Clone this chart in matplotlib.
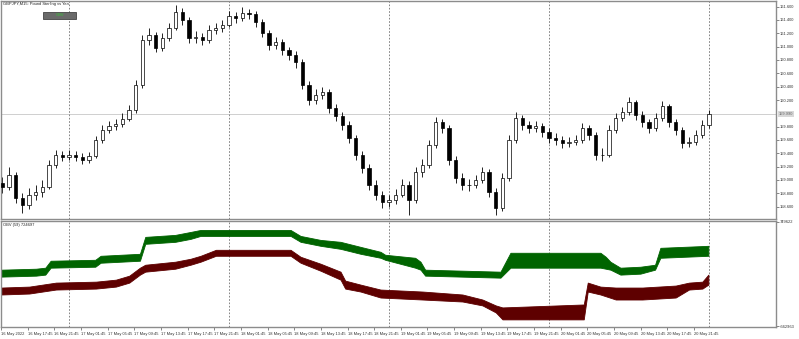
import numpy as np
import matplotlib
matplotlib.use("Agg")
import matplotlib.pyplot as plt
from matplotlib.patches import Rectangle
import matplotlib.transforms as mtransforms

plt.rcParams['font.family'] = ['Liberation Sans', 'DejaVu Sans']

# GBPJPY hourly candles, hours counted from 16 May 2022 00:00
hours = np.arange(14, 121)
first_open = 158.95
closes = [158.90, 159.08, 158.73, 158.63, 158.78, 158.82, 158.90, 159.23, 159.38, 159.35,
          159.38, 159.35, 159.30, 159.36, 159.60, 159.75, 159.81, 159.84, 159.92, 160.05,
          160.43, 161.10, 161.18, 160.98, 161.13, 161.28, 161.52, 161.40, 161.13, 161.15,
          161.10, 161.25, 161.28, 161.33, 161.46, 161.43, 161.51, 161.49, 161.37, 161.21,
          161.03, 161.07, 160.95, 160.88, 160.77, 160.43, 160.20, 160.28, 160.32, 160.08,
          159.96, 159.83, 159.63, 159.38, 159.18, 158.93, 158.78, 158.67, 158.70, 158.78,
          158.93, 158.70, 159.12, 159.23, 159.53, 159.87, 159.78, 159.30, 159.03, 158.93,
          158.93, 159.00, 159.12, 158.82, 158.58, 159.03, 159.60, 159.93, 159.83, 159.78,
          159.81, 159.72, 159.63, 159.60, 159.56, 159.57, 159.60, 159.78, 159.68, 159.38,
          159.38, 159.75, 159.93, 160.02, 160.17, 159.98, 159.87, 159.78, 159.93, 160.11,
          159.87, 159.75, 159.56, 159.57, 159.68, 159.83, 159.99]
highs = [159.05, 159.20, 159.12, 158.80, 158.88, 158.92, 159.00, 159.30, 159.45, 159.44,
         159.45, 159.43, 159.40, 159.42, 159.66, 159.82, 159.88, 159.92, 160.00, 160.12,
         160.50, 161.18, 161.28, 161.22, 161.20, 161.36, 161.62, 161.58, 161.44, 161.24,
         161.20, 161.32, 161.36, 161.40, 161.54, 161.52, 161.59, 161.57, 161.53, 161.41,
         161.25, 161.14, 161.12, 161.00, 160.93, 160.82, 160.48, 160.36, 160.40, 160.37,
         160.14, 160.02, 159.88, 159.68, 159.44, 159.24, 159.00, 158.84, 158.78, 158.86,
         159.02, 158.98, 159.20, 159.32, 159.60, 159.94, 159.92, 159.82, 159.36, 159.10,
         159.02, 159.08, 159.20, 159.16, 158.88, 159.10, 159.68, 160.02, 159.98, 159.88,
         159.88, 159.85, 159.78, 159.70, 159.66, 159.65, 159.68, 159.85, 159.82, 159.72,
         159.48, 159.82, 160.00, 160.10, 160.24, 160.20, 160.03, 159.92, 160.00, 160.18,
         160.14, 159.92, 159.80, 159.65, 159.75, 159.90, 160.05]
lows = [158.80, 158.85, 158.65, 158.50, 158.57, 158.70, 158.75, 158.86, 159.18, 159.28,
        159.30, 159.29, 159.24, 159.25, 159.33, 159.55, 159.70, 159.75, 159.80, 159.88,
        160.00, 160.38, 161.02, 160.92, 160.93, 161.08, 161.25, 161.33, 161.05, 161.06,
        161.02, 161.06, 161.19, 161.22, 161.29, 161.36, 161.38, 161.41, 161.30, 161.14,
        160.95, 160.97, 160.88, 160.80, 160.68, 160.36, 160.12, 160.14, 160.22, 160.00,
        159.88, 159.75, 159.55, 159.30, 159.10, 158.85, 158.70, 158.58, 158.60, 158.64,
        158.74, 158.48, 158.66, 159.05, 159.18, 159.48, 159.70, 159.22, 158.95, 158.85,
        158.84, 158.88, 158.95, 158.75, 158.48, 158.54, 158.98, 159.55, 159.75, 159.70,
        159.72, 159.65, 159.56, 159.53, 159.48, 159.50, 159.52, 159.56, 159.60, 159.30,
        159.28, 159.34, 159.70, 159.88, 159.97, 159.90, 159.80, 159.70, 159.74, 159.88,
        159.80, 159.68, 159.48, 159.50, 159.52, 159.63, 159.78]

# OBV bands (upper and lower edge of each filled band)
green_h = [13.8, 19.0, 20.4, 21.2, 27.9, 28.7, 34.6, 35.4, 39.9, 42.2, 43.7, 57.2, 58.7, 61.7,
           64.7, 67.7, 70.7, 71.4, 75.9, 76.7, 77.4, 88.7, 90.2, 103.7, 104.5, 105.2, 106.7,
           109.7, 111.9, 112.7, 119.9]
green_top = [104000, 117000, 131000, 225000, 238000, 292000, 319000, 548000, 575000, 615000,
             642000, 642000, 561000, 507000, 481000, 413000, 346000, 306000, 265000, 212000,
             104000, 77000, 333000, 333000, 279000, 212000, 131000, 144000, 171000, 400000,
             427000]
green_bot = [10000, 23000, 37000, 131000, 144000, 198000, 225000, 454000, 481000, 521000,
             561000, 561000, 481000, 427000, 386000, 319000, 265000, 238000, 131000, 104000,
             23000, -4000, 131000, 131000, 117000, 104000, 37000, 50000, 104000, 265000,
             292000]
red_h = [13.8, 18.0, 20.0, 22.0, 28.0, 31.0, 33.0, 34.6, 35.4, 39.9, 42.2, 43.7, 46.0, 57.2,
         58.7, 61.7, 64.7, 65.4, 67.7, 70.7, 77.0, 83.0, 86.0, 88.0, 89.0, 101.2, 101.8, 103.7,
         106.0, 110.0, 115.0, 117.0, 119.0, 119.9]
red_top = [-138000, -125000, -98000, -71000, -58000, -31000, 23000, 131000, 171000, 212000,
           252000, 292000, 373000, 373000, 279000, 185000, 77000, -44000, -98000, -165000,
           -192000, -232000, -300000, -380000, -407000, -367000, -71000, -125000, -138000,
           -138000, -111000, -71000, -58000, 37000]
red_bot = [-232000, -219000, -192000, -165000, -152000, -125000, -71000, 37000, 77000, 117000,
           171000, 212000, 292000, 292000, 198000, 90000, -31000, -152000, -192000, -273000,
           -300000, -327000, -380000, -475000, -569000, -569000, -192000, -232000, -300000,
           -300000, -273000, -165000, -152000, -98000]

price_ticks = [161.6, 161.4, 161.2, 161.0, 160.8, 160.6, 160.4, 160.2,
               159.8, 159.6, 159.4, 159.2, 159.0, 158.8, 158.6]
time_labels = ["16 May 2022", "16 May 17:45", "16 May 21:45",
               "17 May 01:45", "17 May 05:45", "17 May 09:45", "17 May 13:45", "17 May 17:45", "17 May 21:45",
               "18 May 01:45", "18 May 05:45", "18 May 09:45", "18 May 13:45", "18 May 17:45", "18 May 21:45",
               "19 May 01:45", "19 May 05:45", "19 May 09:45", "19 May 13:45", "19 May 17:45", "19 May 21:45",
               "20 May 01:45", "20 May 05:45", "20 May 09:45", "20 May 13:45", "20 May 17:45", "20 May 21:45"]
time_ticks = 13.75 + 4 * np.arange(len(time_labels))
day_lines = [24, 48, 72, 96, 120]

closes = np.array(closes)
opens = np.concatenate([[first_open], closes[:-1]])

fs = 2.9
frame = '#8c8c8c'

fig = plt.figure(figsize=(7.99, 3.39), dpi=100)
ax = fig.add_axes([1 / 799, 120 / 339, 775 / 799, 218 / 339])
ax2 = fig.add_axes([1 / 799, 12 / 339, 775 / 799, 106 / 339])

# candles
ax.vlines(hours, lows, highs, color='black', linewidth=0.6, zorder=2)
up = closes >= opens
ax.bar(hours[up], closes[up] - opens[up], bottom=opens[up], width=0.5,
       color='white', edgecolor='black', linewidth=0.5, zorder=3)
ax.bar(hours[~up], opens[~up] - closes[~up], bottom=closes[~up], width=0.5,
       color='black', edgecolor='black', linewidth=0.5, zorder=3)

ax.axhline(closes[-1], color='#c8c8c8', linewidth=0.6, zorder=1)
for d in day_lines:
    ax.axvline(d, color='#707070', linestyle=(0, (2, 2)), linewidth=0.6, zorder=1)
    ax2.axvline(d, color='#707070', linestyle=(0, (2, 2)), linewidth=0.6, zorder=1)

ax.set_xlim(13.8, 130.05)
ax.set_ylim(158.415, 161.685)
ax.set_xticks([])
ax.yaxis.tick_right()
ax.set_yticks(price_ticks)
ax.set_yticklabels(['%.3f' % p for p in price_ticks])
ax.tick_params(axis='y', labelsize=fs, length=2, width=0.5, color='#555555',
               labelcolor='#333333', pad=1)

trans = mtransforms.blended_transform_factory(ax.transAxes, ax.transData)
ax.text(1.004, closes[-1], '%.3f' % closes[-1], transform=trans, fontsize=fs,
        color='#666666', va='center', ha='left', zorder=5, clip_on=False,
        bbox=dict(boxstyle='square,pad=0.15', fc='#d8d8d8', ec='none'))

ax.text(0.003, 0.995, 'GBPJPY,M15: Pound Sterling vs Yen', transform=ax.transAxes,
        fontsize=fs, va='top', ha='left', color='#222222')

# OBV button
fig.patches.append(Rectangle((43 / 799, 1 - 19 / 339), 33 / 799, 7 / 339,
                             transform=fig.transFigure, fc='#6a6a6a', ec='#444444', lw=0.6))
fig.text(59.5 / 799, 1 - 15.5 / 339, 'OBV', fontsize=fs, color='#33cc33', ha='center', va='center')

# indicator window
ax2.fill_between(green_h, green_bot, green_top, color='#006400', linewidth=0.6, edgecolor='#006400')
ax2.fill_between(red_h, red_bot, red_top, color='#5e0000', linewidth=0.6, edgecolor='#5e0000')
ax2.set_xlim(13.8, 130.05)
ax2.set_ylim(-672000, 763000)
ax2.yaxis.tick_right()
ax2.set_yticks([749622, -662963])
ax2.set_yticklabels(['749622', '-662963'])
ax2.tick_params(axis='y', labelsize=fs, length=2, width=0.5, color='#555555',
                labelcolor='#333333', pad=1)
ax2.set_xticks(time_ticks)
ax2.set_xticklabels(time_labels)
ax2.tick_params(axis='x', labelsize=fs, length=2, width=0.5, color='#555555',
                labelcolor='#333333', pad=1.5)
for lab in ax2.get_xticklabels():
    lab.set_ha('left')
ax2.text(0.003, 0.985, 'OBV (59) 724697', transform=ax2.transAxes, fontsize=fs,
         va='top', ha='left', color='#222222')

for a in (ax, ax2):
    for s in a.spines.values():
        s.set_color(frame)
        s.set_linewidth(1.0)

fig.savefig('out.png', dpi=100, facecolor='white')
